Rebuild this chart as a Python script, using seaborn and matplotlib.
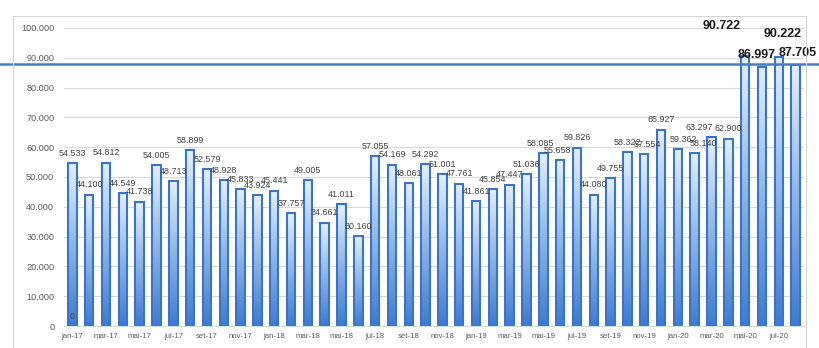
import numpy as np
import pandas as pd
import matplotlib
matplotlib.use("Agg")
import matplotlib.pyplot as plt
from matplotlib.colors import LinearSegmentedColormap
from matplotlib.patches import Rectangle
import seaborn as sns

# ---------------- data ----------------
categories = [
    "jan-17", "fev-17", "mar-17", "abr-17", "mai-17", "jun-17", "jul-17", "ago-17", "set-17", "out-17", "nov-17", "dez-17",
    "jan-18", "fev-18", "mar-18", "abr-18", "mai-18", "jun-18", "jul-18", "ago-18", "set-18", "out-18", "nov-18", "dez-18",
    "jan-19", "fev-19", "mar-19", "abr-19", "mai-19", "jun-19", "jul-19", "ago-19", "set-19", "out-19", "nov-19", "dez-19",
    "jan-20", "fev-20", "mar-20", "abr-20", "mai-20", "jun-20", "jul-20", "ago-20",
]
values = [
    54533, 44100, 54812, 44549, 41738, 54005, 48713, 58899, 52579, 48928, 45833, 43924,
    45441, 37757, 49005, 34661, 41011, 30160, 57055, 54169, 48061, 54292, 51001, 47761,
    41861, 45854, 47447, 51036, 58085, 55658, 59826, 44080, 49755, 58322, 57554, 65927,
    59362, 58140, 63297, 62900, 90722, 86997, 90222, 87705,
]
reference_line = 88000
zero_label = 0
y_ticks = [0, 10000, 20000, 30000, 40000, 50000, 60000, 70000, 80000, 90000, 100000]

# label offsets (points) for the emphasised last four labels
big_offsets = {40: (-17, 21), 41: (-4, 8.5), 42: (3, 17), 43: (1.5, 8.5)}
# small horizontal nudges of some regular labels (points)
label_dx = {36: 4.3, 37: 6.5, 38: -8.6, 34: 2.0, 29: -2.0, 28: -2.0}

def fmt(v):
    return f"{int(v):,}".replace(",", ".")

# ---------------- figure ----------------
sns.set_theme(style="white")
plt.rcParams['font.family'] = ['Liberation Sans', 'DejaVu Sans']

W, H = 820, 348
fig = plt.figure(figsize=(W / 100, H / 100), dpi=100)
fig.patch.set_facecolor("white")
ax = fig.add_axes([64 / W, 22 / H, 740 / W, 298 / H])

df = pd.DataFrame({"mes": categories, "valor": values})
sns.barplot(data=df, x="mes", y="valor", ax=ax, width=0.5, color="#5b8fd6",
            edgecolor="#3a74c4", linewidth=1.5, saturation=1, errorbar=None)

# vertical gradient fill in each bar
cmap = LinearSegmentedColormap.from_list("g", ["#3f7bcc", "#8fb5e6", "#e6effa"])
grad = np.linspace(0, 1, 256).reshape(-1, 1)
for p in list(ax.patches):
    x0, y0, w, h = p.get_x(), p.get_y(), p.get_width(), p.get_height()
    im = ax.imshow(grad, cmap=cmap, extent=[x0, x0 + w, y0, y0 + h], aspect="auto",
                   origin="lower", zorder=p.get_zorder() - 0.05, interpolation="bilinear")
    im.set_clip_path(p)
    p.set_facecolor("none")

ax.set_xlim(-0.5, len(categories) - 0.5)
ax.set_ylim(0, 100000)
ax.set_aspect("auto")

# grid / spines
ax.set_axisbelow(True)
ax.yaxis.grid(True, color="#d9d9d9", linewidth=0.8)
ax.xaxis.grid(False)
for s in ["top", "right", "left"]:
    ax.spines[s].set_visible(False)
ax.spines["bottom"].set_color("#d9d9d9")
ax.spines["bottom"].set_linewidth(0.8)

ax.set_yticks(y_ticks)
ax.set_yticklabels([fmt(v) for v in y_ticks])
ax.set_xticks(range(0, len(categories), 2))
ax.set_xticklabels(categories[::2])
ax.tick_params(axis="y", length=0, pad=7, labelsize=6.6, labelcolor="#595959")
ax.tick_params(axis="x", length=0, pad=5, labelsize=5.6, labelcolor="#595959")
ax.set_xlabel("")
ax.set_ylabel("")

# data labels
for i, v in enumerate(values):
    if i in big_offsets:
        dx, dy = big_offsets[i]
        ax.annotate(fmt(v), (i, v), xytext=(dx, dy), textcoords="offset points",
                    ha="center", va="center", fontsize=9, fontweight="bold",
                    color="#1a1a1a", zorder=6)
    else:
        ax.annotate(fmt(v), (i, v), xytext=(label_dx.get(i, 0), 7), textcoords="offset points",
                    ha="center", va="center", fontsize=6.4, color="#404040", zorder=6)
ax.annotate(fmt(zero_label), (0, 0), xytext=(0, 7), textcoords="offset points",
            ha="center", va="center", fontsize=6.4, color="#404040", zorder=6)

# reference line across the whole picture
ax.axhline(reference_line, xmin=-64 / 740, xmax=(W - 64) / 740, color="#4a7cc4",
           linewidth=1.8, clip_on=False, zorder=5)

# chart frame
fig.add_artist(Rectangle((13 / W, -0.05), 793 / W, (H - 16) / H + 0.05,
                         transform=fig.transFigure, fill=False,
                         edgecolor="#d4d4d4", linewidth=0.8))

fig.savefig("out.png", dpi=100, facecolor="white")
